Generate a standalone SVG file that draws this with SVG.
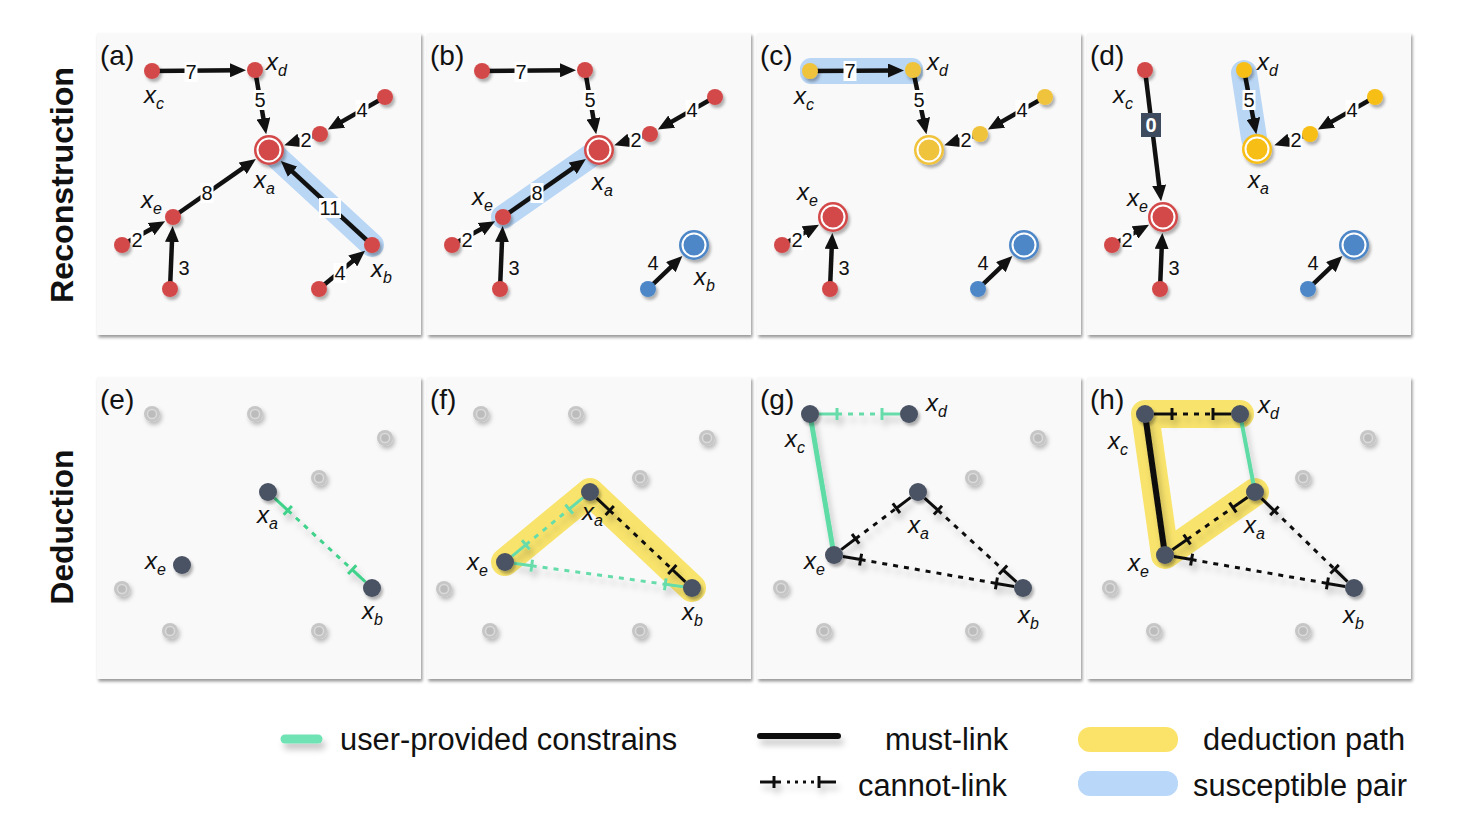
<svg xmlns="http://www.w3.org/2000/svg" width="1467" height="822" viewBox="0 0 1467 822">
<defs>
<filter id="ps" x="-5%" y="-5%" width="112%" height="112%"><feDropShadow dx="1.5" dy="2.5" stdDeviation="1.5" flood-color="#000" flood-opacity="0.4"/></filter>
<filter id="ns" x="-50%" y="-50%" width="220%" height="220%"><feDropShadow dx="2" dy="3" stdDeviation="1.5" flood-color="#000" flood-opacity="0.3"/></filter>
<filter id="gs" x="-80%" y="-80%" width="260%" height="260%"><feGaussianBlur in="SourceGraphic" stdDeviation="0.6" result="b"/><feDropShadow in="b" dx="2" dy="3" stdDeviation="2" flood-color="#000" flood-opacity="0.25"/></filter>
<filter id="es" filterUnits="userSpaceOnUse" x="0" y="0" width="1467" height="822"><feDropShadow dx="3" dy="6" stdDeviation="3" flood-color="#000" flood-opacity="0.22"/></filter>
<marker id="ah" markerUnits="userSpaceOnUse" markerWidth="16" markerHeight="14" refX="8" refY="7" orient="auto"><path d="M0,0 L16,7 L0,14 z" fill="#111"/></marker>
</defs>
<style>
.pn{fill:#f9f9f9;filter:url(#ps)}
.e{stroke:#111;stroke-width:4.5;fill:none;marker-end:url(#ah)}
.band{stroke:#b9d6f5;stroke-width:24;stroke-linecap:round;fill:none}
.yb{stroke:#f8e36c;stroke-width:28;stroke-linecap:round;stroke-linejoin:round;fill:none}
.lbox{fill:#fff}
.num{font-family:"Liberation Sans",Arial,sans-serif;font-size:20px;text-anchor:middle;fill:#111}
.lb{font-family:"Liberation Sans",Arial,sans-serif;font-size:24px;font-style:italic;fill:#111}
.sb{font-size:16px}
.pl{font-family:"Liberation Sans",Arial,sans-serif;font-size:28px;fill:#111}
.rt{font-family:"Liberation Sans",Arial,sans-serif;font-size:31px;font-weight:bold;fill:#111;text-anchor:middle}
.lg{font-family:"Liberation Sans",Arial,sans-serif;font-size:30.8px;fill:#111}
.nd{filter:url(#ns)}
.r{fill:#d34a4a}.y{fill:#f0c33c}.yd{fill:#f7be16}.b{fill:#4d87c7}.dk{fill:#495263}
.ring{stroke:#fff;stroke-width:2}
.gn{filter:url(#gs)}
.go{fill:#c6c6c6}.gi{fill:#bcbcbc;stroke:#dadada;stroke-width:1.5}
.cs{stroke:#111;stroke-width:3;fill:none}
.cdash{stroke:#111;stroke-width:3;fill:none;stroke-dasharray:5 6}
.gc{stroke:#66dcaa}.ge{stroke:#3fd18a}
.edg{filter:url(#es)}
</style>
<rect width="1467" height="822" fill="#fff"/>

<!-- row titles -->
<text class="rt" transform="translate(73,185) rotate(-90)" textLength="236" lengthAdjust="spacingAndGlyphs">Reconstruction</text>
<text class="rt" transform="translate(73,527) rotate(-90)" textLength="155" lengthAdjust="spacingAndGlyphs">Deduction</text>

<!-- ================= Panel (a) ================= -->
<g id="panel-a">
<rect class="pn" x="97" y="33" width="324" height="302"/>
<text class="pl" x="100" y="65">(a)</text>
<line class="band" x1="269" y1="150" x2="372" y2="245"/>
<g id="a-edges">
<line class="e" x1="152" y1="71" x2="238" y2="70.2"/>
<line class="e" x1="255" y1="70" x2="264.8" y2="126.3"/>
<line class="e" x1="385" y1="97" x2="334.8" y2="125.6"/>
<line class="e" x1="320" y1="134" x2="291.9" y2="142.8"/>
<line class="e" x1="173" y1="217" x2="249.3" y2="163.7"/>
<line class="e" x1="372" y1="245" x2="286.7" y2="166.3"/>
<line class="e" x1="122" y1="245" x2="158.1" y2="225.2"/>
<line class="e" x1="170" y1="289" x2="172.3" y2="234"/>
<line class="e" x1="319" y1="289" x2="358.9" y2="255.9"/>
<rect class="lbox" x="184.5" y="62" width="13" height="20"/><text class="num" x="191" y="79">7</text>
<rect class="lbox" x="253.5" y="90" width="13" height="20"/><text class="num" x="260" y="107">5</text>
<rect class="lbox" x="355.5" y="100" width="13" height="20"/><text class="num" x="362" y="117">4</text>
<rect class="lbox" x="299.5" y="130" width="13" height="20"/><text class="num" x="306" y="147">2</text>
<rect class="lbox" x="200.5" y="183" width="13" height="20"/><text class="num" x="207" y="200">8</text>
<rect class="lbox" x="319" y="198" width="22" height="20"/><text class="num" x="330" y="215">11</text>
<rect class="lbox" x="130.5" y="230" width="13" height="20"/><text class="num" x="137" y="247">2</text>
<text class="num" x="184" y="275">3</text>
<rect class="lbox" x="333.5" y="263" width="13" height="20"/><text class="num" x="340" y="280">4</text>
</g>
<g id="a-xc" class="nd"><circle class="r" cx="152" cy="71" r="8"/></g>
<g id="a-xd" class="nd"><circle class="r" cx="255" cy="70" r="8"/></g>
<g id="a-xa" class="nd"><circle class="r" cx="269" cy="150" r="15"/><circle class="r ring" cx="269" cy="150" r="11.5"/></g>
<g id="a-n1" class="nd"><circle class="r" cx="320" cy="134" r="8"/></g>
<g id="a-n2" class="nd"><circle class="r" cx="385" cy="97" r="8"/></g>
<g id="a-xe" class="nd"><circle class="r" cx="173" cy="217" r="8"/></g>
<g id="a-n3" class="nd"><circle class="r" cx="122" cy="245" r="8"/></g>
<g id="a-n4" class="nd"><circle class="r" cx="170" cy="289" r="8"/></g>
<g id="a-xb" class="nd"><circle class="r" cx="372" cy="245" r="8"/></g>
<g id="a-n5" class="nd"><circle class="r" cx="319" cy="289" r="8"/></g>
<text class="lb" x="144" y="103">x<tspan class="sb" dy="6">c</tspan></text>
<text class="lb" x="266" y="70">x<tspan class="sb" dy="6">d</tspan></text>
<text class="lb" x="254" y="188">x<tspan class="sb" dy="6">a</tspan></text>
<text class="lb" x="141" y="208">x<tspan class="sb" dy="6">e</tspan></text>
<text class="lb" x="371" y="277">x<tspan class="sb" dy="6">b</tspan></text>
</g>

<!-- ================= Panel (b) ================= -->
<g id="panel-b" transform="translate(330,0)">
<rect class="pn" x="97" y="33" width="324" height="302"/>
<text class="pl" x="100" y="65">(b)</text>
<line class="band" x1="173" y1="217" x2="269" y2="150"/>
<g id="b-edges">
<line class="e" x1="152" y1="71" x2="238" y2="70.2"/>
<line class="e" x1="255" y1="70" x2="264.8" y2="126.3"/>
<line class="e" x1="385" y1="97" x2="334.8" y2="125.6"/>
<line class="e" x1="320" y1="134" x2="291.9" y2="142.8"/>
<line class="e" x1="173" y1="217" x2="249.3" y2="163.7"/>
<line class="e" x1="122" y1="245" x2="158.1" y2="225.2"/>
<line class="e" x1="170" y1="289" x2="172.3" y2="234"/>
<line class="e" x1="318" y1="289" x2="346.6" y2="261.6"/>
<rect class="lbox" x="184.5" y="62" width="13" height="20"/><text class="num" x="191" y="79">7</text>
<rect class="lbox" x="253.5" y="90" width="13" height="20"/><text class="num" x="260" y="107">5</text>
<rect class="lbox" x="355.5" y="100" width="13" height="20"/><text class="num" x="362" y="117">4</text>
<rect class="lbox" x="299.5" y="130" width="13" height="20"/><text class="num" x="306" y="147">2</text>
<rect class="lbox" x="200.5" y="183" width="13" height="20"/><text class="num" x="207" y="200">8</text>
<rect class="lbox" x="130.5" y="230" width="13" height="20"/><text class="num" x="137" y="247">2</text>
<text class="num" x="184" y="275">3</text>
<text class="num" x="323" y="270">4</text>
</g>
<g id="b-xc" class="nd"><circle class="r" cx="152" cy="71" r="8"/></g>
<g id="b-xd" class="nd"><circle class="r" cx="255" cy="70" r="8"/></g>
<g id="b-xa" class="nd"><circle class="r" cx="269" cy="150" r="15"/><circle class="r ring" cx="269" cy="150" r="11.5"/></g>
<g id="b-n1" class="nd"><circle class="r" cx="320" cy="134" r="8"/></g>
<g id="b-n2" class="nd"><circle class="r" cx="385" cy="97" r="8"/></g>
<g id="b-xe" class="nd"><circle class="r" cx="173" cy="217" r="8"/></g>
<g id="b-n3" class="nd"><circle class="r" cx="122" cy="245" r="8"/></g>
<g id="b-n4" class="nd"><circle class="r" cx="170" cy="289" r="8"/></g>
<g id="b-xb" class="nd"><circle class="b" cx="364" cy="245" r="15"/><circle class="b ring" cx="364" cy="245" r="11.5"/></g>
<g id="b-n5" class="nd"><circle class="b" cx="318" cy="289" r="8"/></g>
<text class="lb" x="262" y="190">x<tspan class="sb" dy="6">a</tspan></text>
<text class="lb" x="142" y="205">x<tspan class="sb" dy="6">e</tspan></text>
<text class="lb" x="364" y="285">x<tspan class="sb" dy="6">b</tspan></text>
</g>

<!-- ================= Panel (c) ================= -->
<g id="panel-c" transform="translate(660,0)">
<rect class="pn" x="97" y="33" width="324" height="302"/>
<text class="pl" x="100" y="65">(c)</text>
<rect x="140" y="58" width="123" height="26" rx="11" fill="#b9d6f5"/>
<g id="c-edges">
<line class="e" x1="152" y1="71" x2="236" y2="70.5"/>
<line class="e" x1="253" y1="70" x2="264.8" y2="126.3"/>
<line class="e" x1="385" y1="97" x2="334.8" y2="125.6"/>
<line class="e" x1="320" y1="134" x2="291.9" y2="142.8"/>
<line class="e" x1="122" y1="245" x2="152" y2="228.6"/>
<line class="e" x1="170" y1="289" x2="172" y2="241"/>
<line class="e" x1="318" y1="289" x2="346.6" y2="261.6"/>
<rect class="lbox" x="183.5" y="61" width="13" height="20"/><text class="num" x="190" y="78">7</text>
<rect class="lbox" x="252.5" y="90" width="13" height="20"/><text class="num" x="259" y="107">5</text>
<rect class="lbox" x="355.5" y="100" width="13" height="20"/><text class="num" x="362" y="117">4</text>
<rect class="lbox" x="299.5" y="130" width="13" height="20"/><text class="num" x="306" y="147">2</text>
<rect class="lbox" x="130.5" y="230" width="13" height="20"/><text class="num" x="137" y="247">2</text>
<text class="num" x="184" y="275">3</text>
<text class="num" x="323" y="270">4</text>
</g>
<g id="c-xc" class="nd"><circle class="y" cx="150" cy="71" r="8"/></g>
<g id="c-xd" class="nd"><circle class="y" cx="253" cy="70" r="8"/></g>
<g id="c-xa" class="nd"><circle class="y" cx="269" cy="150" r="15"/><circle class="y ring" cx="269" cy="150" r="11.5"/></g>
<g id="c-n1" class="nd"><circle class="y" cx="320" cy="134" r="8"/></g>
<g id="c-n2" class="nd"><circle class="y" cx="385" cy="97" r="8"/></g>
<g id="c-xe" class="nd"><circle class="r" cx="173" cy="217" r="15"/><circle class="r ring" cx="173" cy="217" r="11.5"/></g>
<g id="c-n3" class="nd"><circle class="r" cx="122" cy="245" r="8"/></g>
<g id="c-n4" class="nd"><circle class="r" cx="170" cy="289" r="8"/></g>
<g id="c-xb" class="nd"><circle class="b" cx="364" cy="245" r="15"/><circle class="b ring" cx="364" cy="245" r="11.5"/></g>
<g id="c-n5" class="nd"><circle class="b" cx="318" cy="289" r="8"/></g>
<text class="lb" x="134" y="104">x<tspan class="sb" dy="6">c</tspan></text>
<text class="lb" x="267" y="70">x<tspan class="sb" dy="6">d</tspan></text>
<text class="lb" x="137" y="200">x<tspan class="sb" dy="6">e</tspan></text>
</g>

<!-- ================= Panel (d) ================= -->
<g id="panel-d" transform="translate(990,0)">
<rect class="pn" x="97" y="33" width="324" height="302"/>
<text class="pl" x="100" y="65">(d)</text>
<line class="band" x1="254" y1="73" x2="264" y2="138" style="stroke-width:26"/>
<g id="d-edges">
<line class="e" x1="155" y1="70" x2="170.1" y2="193.2"/>
<line class="e" x1="254" y1="70" x2="264.8" y2="126.3"/>
<line class="e" x1="385" y1="97" x2="334.8" y2="125.6"/>
<line class="e" x1="320" y1="134" x2="291.9" y2="142.8"/>
<line class="e" x1="122" y1="245" x2="152" y2="228.6"/>
<line class="e" x1="170" y1="289" x2="172" y2="241"/>
<line class="e" x1="318" y1="289" x2="346.6" y2="261.6"/>
<rect x="151" y="113" width="20" height="24" fill="#3e4b5e"/><text class="num" x="161" y="132" style="fill:#fff;font-weight:bold">0</text>
<rect class="lbox" x="252.5" y="90" width="13" height="20"/><text class="num" x="259" y="107">5</text>
<rect class="lbox" x="355.5" y="100" width="13" height="20"/><text class="num" x="362" y="117">4</text>
<rect class="lbox" x="299.5" y="130" width="13" height="20"/><text class="num" x="306" y="147">2</text>
<rect class="lbox" x="130.5" y="230" width="13" height="20"/><text class="num" x="137" y="247">2</text>
<text class="num" x="184" y="275">3</text>
<text class="num" x="323" y="270">4</text>
</g>
<g id="d-xc" class="nd"><circle class="r" cx="155" cy="70" r="8"/></g>
<g id="d-xd" class="nd"><circle class="yd" cx="254" cy="70" r="8"/></g>
<g id="d-xa" class="nd"><circle class="yd" cx="267" cy="149" r="15"/><circle class="yd ring" cx="267" cy="149" r="11.5"/></g>
<g id="d-n1" class="nd"><circle class="yd" cx="320" cy="134" r="8"/></g>
<g id="d-n2" class="nd"><circle class="yd" cx="385" cy="97" r="8"/></g>
<g id="d-xe" class="nd"><circle class="r" cx="173" cy="217" r="15"/><circle class="r ring" cx="173" cy="217" r="11.5"/></g>
<g id="d-n3" class="nd"><circle class="r" cx="122" cy="245" r="8"/></g>
<g id="d-n4" class="nd"><circle class="r" cx="170" cy="289" r="8"/></g>
<g id="d-xb" class="nd"><circle class="b" cx="364" cy="245" r="15"/><circle class="b ring" cx="364" cy="245" r="11.5"/></g>
<g id="d-n5" class="nd"><circle class="b" cx="318" cy="289" r="8"/></g>
<text class="lb" x="123" y="103">x<tspan class="sb" dy="6">c</tspan></text>
<text class="lb" x="267" y="70">x<tspan class="sb" dy="6">d</tspan></text>
<text class="lb" x="258" y="188">x<tspan class="sb" dy="6">a</tspan></text>
<text class="lb" x="137" y="206">x<tspan class="sb" dy="6">e</tspan></text>
</g>

<!-- ================= Panel (e) ================= -->
<g id="panel-e">
<rect class="pn" x="97" y="377" width="324" height="302"/>
<text class="pl" x="100" y="409">(e)</text>
<g id="e-gray">
<g class="gn"><circle class="go" cx="152" cy="414" r="8"/><circle class="gi" cx="152" cy="414" r="4.5"/></g>
<g class="gn"><circle class="go" cx="255" cy="414" r="8"/><circle class="gi" cx="255" cy="414" r="4.5"/></g>
<g class="gn"><circle class="go" cx="385" cy="438" r="8"/><circle class="gi" cx="385" cy="438" r="4.5"/></g>
<g class="gn"><circle class="go" cx="319" cy="478" r="8"/><circle class="gi" cx="319" cy="478" r="4.5"/></g>
<g class="gn"><circle class="go" cx="122" cy="589" r="8"/><circle class="gi" cx="122" cy="589" r="4.5"/></g>
<g class="gn"><circle class="go" cx="170" cy="631" r="8"/><circle class="gi" cx="170" cy="631" r="4.5"/></g>
<g class="gn"><circle class="go" cx="319" cy="631" r="8"/><circle class="gi" cx="319" cy="631" r="4.5"/></g>
</g>
<g id="e-edges" class="edg">
<path class="cs ge" d="M274.6,498.1 L287.8,510.3 M352.2,569.7 L365.4,581.9 M283.7,514.7 L291.9,505.9 M348.1,574.1 L356.3,565.3"/>
<path class="cdash ge" d="M287.8,510.3 L352.2,569.7"/>
</g>
<g id="e-xa" class="nd"><circle class="dk" cx="268" cy="492" r="9"/></g>
<g id="e-xe" class="nd"><circle class="dk" cx="182" cy="565" r="9"/></g>
<g id="e-xb" class="nd"><circle class="dk" cx="372" cy="588" r="9"/></g>
<text class="lb" x="257" y="523">x<tspan class="sb" dy="6">a</tspan></text>
<text class="lb" x="145" y="569">x<tspan class="sb" dy="6">e</tspan></text>
<text class="lb" x="362" y="619">x<tspan class="sb" dy="6">b</tspan></text>
</g>

<!-- ================= Panel (f) ================= -->
<g id="panel-f">
<rect class="pn" x="427" y="377" width="324" height="302"/>
<text class="pl" x="430" y="409">(f)</text>
<g id="f-gray">
<g class="gn"><circle class="go" cx="481" cy="414" r="8"/><circle class="gi" cx="481" cy="414" r="4.5"/></g>
<g class="gn"><circle class="go" cx="576" cy="414" r="8"/><circle class="gi" cx="576" cy="414" r="4.5"/></g>
<g class="gn"><circle class="go" cx="707" cy="438" r="8"/><circle class="gi" cx="707" cy="438" r="4.5"/></g>
<g class="gn"><circle class="go" cx="640" cy="478" r="8"/><circle class="gi" cx="640" cy="478" r="4.5"/></g>
<g class="gn"><circle class="go" cx="444" cy="589" r="8"/><circle class="gi" cx="444" cy="589" r="4.5"/></g>
<g class="gn"><circle class="go" cx="490" cy="631" r="8"/><circle class="gi" cx="490" cy="631" r="4.5"/></g>
<g class="gn"><circle class="go" cx="640" cy="631" r="8"/><circle class="gi" cx="640" cy="631" r="4.5"/></g>
</g>
<polyline class="yb" points="505,562 590,492 692,588"/>
<g id="f-edges" class="edg">
<path class="cs gc" d="M511.9,556.3 L525.8,544.8 M569.2,509.2 L583.1,497.7 M522,540.2 L529.6,549.4 M565.4,504.6 L573,513.8"/>
<path class="cdash gc" d="M525.8,544.8 L569.2,509.2"/>
<path class="cs" d="M596.6,498.2 L609.7,510.5 M672.3,569.5 L685.4,581.8 M605.6,514.9 L613.8,506.1 M668.2,573.9 L676.4,565.1"/>
<path class="cdash" d="M609.7,510.5 L672.3,569.5"/>
<path class="cs gc" d="M513.9,563.2 L531.7,565.7 M665.3,584.3 L683.1,586.8 M530.9,571.6 L532.5,559.8 M664.5,590.2 L666.1,578.4"/>
<path class="cdash gc" d="M531.7,565.7 L665.3,584.3"/>
</g>
<g id="f-xa" class="nd"><circle class="dk" cx="590" cy="492" r="9"/></g>
<g id="f-xe" class="nd"><circle class="dk" cx="505" cy="562" r="9"/></g>
<g id="f-xb" class="nd"><circle class="dk" cx="692" cy="588" r="9"/></g>
<text class="lb" x="582" y="520">x<tspan class="sb" dy="6">a</tspan></text>
<text class="lb" x="467" y="570">x<tspan class="sb" dy="6">e</tspan></text>
<text class="lb" x="682" y="620">x<tspan class="sb" dy="6">b</tspan></text>
</g>

<!-- ================= Panel (g) ================= -->
<g id="panel-g">
<rect class="pn" x="757" y="377" width="324" height="302"/>
<text class="pl" x="760" y="409">(g)</text>
<g id="g-gray">
<g class="gn"><circle class="go" cx="1038" cy="438" r="8"/><circle class="gi" cx="1038" cy="438" r="4.5"/></g>
<g class="gn"><circle class="go" cx="973" cy="478" r="8"/><circle class="gi" cx="973" cy="478" r="4.5"/></g>
<g class="gn"><circle class="go" cx="781" cy="588" r="8"/><circle class="gi" cx="781" cy="588" r="4.5"/></g>
<g class="gn"><circle class="go" cx="824" cy="631" r="8"/><circle class="gi" cx="824" cy="631" r="4.5"/></g>
<g class="gn"><circle class="go" cx="973" cy="631" r="8"/><circle class="gi" cx="973" cy="631" r="4.5"/></g>
</g>
<g id="g-edges" class="edg">
<path class="cs gc" d="M819,414 L837,414 M882,414 L900,414 M837,408 L837,420 M882,408 L882,420"/>
<path class="cdash gc" d="M837,414 L882,414"/>
<line x1="810" y1="414" x2="834" y2="555" stroke="#5fdca6" stroke-width="5"/>
<path class="cs" d="M841.2,549.6 L855.6,538.8 M896.4,508.2 L910.8,497.4 M852,534 L859.2,543.6 M892.8,503.4 L900,513"/>
<path class="cdash" d="M855.6,538.8 L896.4,508.2"/>
<path class="cs" d="M924.6,498.1 L937.9,510.2 M1003.1,569.8 L1016.4,581.9 M933.9,514.6 L942,505.8 M999.1,574.2 L1007.2,565.4"/>
<path class="cdash" d="M937.9,510.2 L1003.1,569.8"/>
<path class="cs" d="M842.9,556.5 L860.6,559.6 M996.4,583.4 L1014.1,586.5 M859.6,565.5 L861.6,553.7 M995.4,589.3 L997.4,577.5"/>
<path class="cdash" d="M860.6,559.6 L996.4,583.4"/>
</g>
<g id="g-xc" class="nd"><circle class="dk" cx="810" cy="414" r="9"/></g>
<g id="g-xd" class="nd"><circle class="dk" cx="909" cy="414" r="9"/></g>
<g id="g-xa" class="nd"><circle class="dk" cx="918" cy="492" r="9"/></g>
<g id="g-xe" class="nd"><circle class="dk" cx="834" cy="555" r="9"/></g>
<g id="g-xb" class="nd"><circle class="dk" cx="1023" cy="588" r="9"/></g>
<text class="lb" x="785" y="447">x<tspan class="sb" dy="6">c</tspan></text>
<text class="lb" x="926" y="411">x<tspan class="sb" dy="6">d</tspan></text>
<text class="lb" x="908" y="533">x<tspan class="sb" dy="6">a</tspan></text>
<text class="lb" x="804" y="569">x<tspan class="sb" dy="6">e</tspan></text>
<text class="lb" x="1018" y="623">x<tspan class="sb" dy="6">b</tspan></text>
</g>

<!-- ================= Panel (h) ================= -->
<g id="panel-h">
<rect class="pn" x="1087" y="377" width="324" height="302"/>
<text class="pl" x="1090" y="409">(h)</text>
<g id="h-gray">
<g class="gn"><circle class="go" cx="1368" cy="438" r="8"/><circle class="gi" cx="1368" cy="438" r="4.5"/></g>
<g class="gn"><circle class="go" cx="1303" cy="478" r="8"/><circle class="gi" cx="1303" cy="478" r="4.5"/></g>
<g class="gn"><circle class="go" cx="1110" cy="588" r="8"/><circle class="gi" cx="1110" cy="588" r="4.5"/></g>
<g class="gn"><circle class="go" cx="1154" cy="631" r="8"/><circle class="gi" cx="1154" cy="631" r="4.5"/></g>
<g class="gn"><circle class="go" cx="1303" cy="631" r="8"/><circle class="gi" cx="1303" cy="631" r="4.5"/></g>
</g>
<polyline class="yb" points="1240,414 1145,414 1165,555 1255,492"/>
<g id="h-edges" class="edg">
<path class="cs" d="M1154,414 L1172,414 M1213,414 L1231,414 M1172,408 L1172,420 M1213,408 L1213,420"/>
<path class="cdash" d="M1172,414 L1213,414"/>
<line x1="1145" y1="414" x2="1165" y2="555" stroke="#111" stroke-width="6"/>
<line x1="1240" y1="414" x2="1255" y2="492" stroke="#5fdca6" stroke-width="4"/>
<path class="cs" d="M1172.4,549.8 L1187.1,539.5 M1232.9,507.5 L1247.6,497.2 M1183.7,534.6 L1190.5,544.4 M1229.5,502.6 L1236.3,512.4"/>
<path class="cdash" d="M1187.1,539.5 L1232.9,507.5"/>
<path class="cs" d="M1261.5,498.3 L1274.4,510.8 M1334.6,569.2 L1347.5,581.7 M1270.2,515.1 L1278.6,506.5 M1330.4,573.5 L1338.8,564.9"/>
<path class="cdash" d="M1274.4,510.8 L1334.6,569.2"/>
<path class="cs" d="M1173.9,556.5 L1191.6,559.6 M1327.4,583.4 L1345.1,586.5 M1190.6,565.5 L1192.6,553.7 M1326.4,589.3 L1328.4,577.5"/>
<path class="cdash" d="M1191.6,559.6 L1327.4,583.4"/>
</g>
<g id="h-xc" class="nd"><circle class="dk" cx="1145" cy="414" r="9"/></g>
<g id="h-xd" class="nd"><circle class="dk" cx="1240" cy="414" r="9"/></g>
<g id="h-xa" class="nd"><circle class="dk" cx="1255" cy="492" r="9"/></g>
<g id="h-xe" class="nd"><circle class="dk" cx="1165" cy="555" r="9"/></g>
<g id="h-xb" class="nd"><circle class="dk" cx="1354" cy="588" r="9"/></g>
<text class="lb" x="1108" y="449">x<tspan class="sb" dy="6">c</tspan></text>
<text class="lb" x="1258" y="413">x<tspan class="sb" dy="6">d</tspan></text>
<text class="lb" x="1244" y="533">x<tspan class="sb" dy="6">a</tspan></text>
<text class="lb" x="1128" y="571">x<tspan class="sb" dy="6">e</tspan></text>
<text class="lb" x="1343" y="623">x<tspan class="sb" dy="6">b</tspan></text>
</g>

<!-- ================= Legend ================= -->
<g id="legend">
<line x1="285" y1="739" x2="318" y2="739" stroke="#6fe3b5" stroke-width="9" stroke-linecap="round" class="edg"/>
<text class="lg" x="340" y="750">user-provided constrains</text>
<line x1="760" y1="736" x2="838" y2="736" stroke="#111" stroke-width="6" stroke-linecap="round" class="edg"/>
<text class="lg" x="885" y="750">must-link</text>
<g class="edg">
<path class="cs" d="M760,782 L781,782 M774,776 L774,788 M819,776 L819,788 M819,782 L836,782"/>
<path class="cdash" d="M787,782 L814,782" style="stroke-dasharray:3 5"/>
</g>
<text class="lg" x="858" y="796">cannot-link</text>
<rect x="1078" y="727" width="100" height="25" rx="12" fill="#fbe36a"/>
<text class="lg" x="1203" y="750">deduction path</text>
<rect x="1078" y="771" width="100" height="25" rx="12" fill="#b9d7f8"/>
<text class="lg" x="1193" y="796">susceptible pair</text>
</g>
</svg>
